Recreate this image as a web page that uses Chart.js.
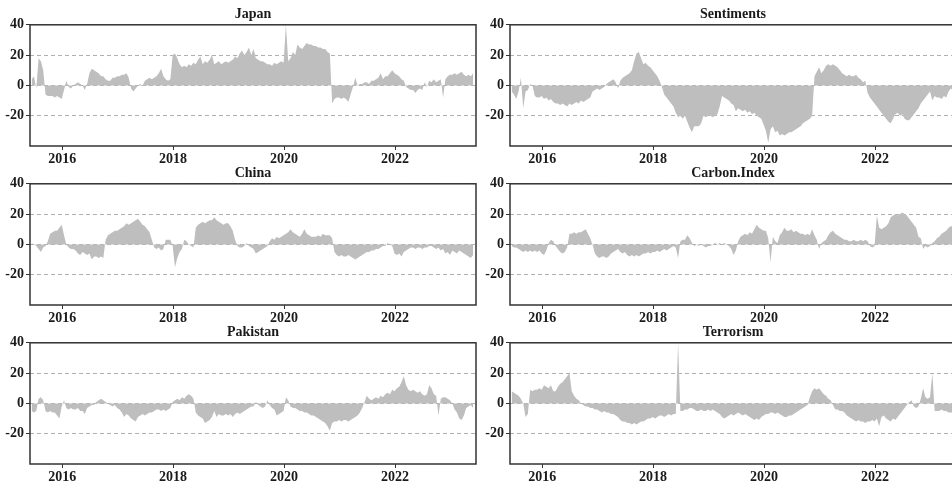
<!DOCTYPE html>
<html>
<head>
<meta charset="utf-8">
<script src="https://cdn.jsdelivr.net/npm/chart.js"></script>
<style>
  html, body { margin: 0; padding: 0; background: #fff; overflow: hidden; }
  body { width: 952px; height: 484px; position: relative; }
  canvas { position: absolute; }
</style>
</head>
<body>
<canvas id="c0" width="478" height="164" style="left:0px;top:0px"></canvas>
<canvas id="c1" width="478" height="164" style="left:480px;top:0px"></canvas>
<canvas id="c2" width="478" height="164" style="left:0px;top:159px"></canvas>
<canvas id="c3" width="478" height="164" style="left:480px;top:159px"></canvas>
<canvas id="c4" width="478" height="164" style="left:0px;top:318px"></canvas>
<canvas id="c5" width="478" height="164" style="left:480px;top:318px"></canvas>
<script>
// half-monthly observations, mid 2015 to mid 2023
const startYear = 2015.45;
const perYear = 24;

const yearTicks = [2016, 2018, 2020, 2022];
const valueTicks = [-20, 0, 20, 40];

const titles = ["Japan", "Sentiments", "China", "Carbon.Index", "Pakistan", "Terrorism"];

const japan = [
  4, 6, -2, 18, 16, 10, -6, -7, -7, -7, -8, -7, -8, -9, -3, 3, -1, -2, 0, 1, 2, 1, 0, -3,
  1, 8, 11, 10, 9, 8, 6, 6, 4, 3, 3, 5, 5, 6, 6, 7, 7, 8, 5, -2, -4, -2, 0, 1,
  0, 3, 4, 5, 4, 5, 6, 8, 11, 6, 4, 3, 4, 20, 21, 18, 14, 12, 13, 12, 14, 13, 15, 14,
  17, 19, 14, 16, 15, 17, 20, 14, 15, 16, 14, 15, 16, 15, 16, 17, 19, 18, 21, 23, 20, 22, 25, 20,
  24, 18, 17, 16, 16, 15, 14, 14, 13, 15, 14, 15, 16, 15, 40, 16, 18, 22, 20, 27, 25, 24, 26, 28,
  27, 27, 26, 26, 25, 25, 24, 24, 22, 21, -12, -9, -8, -8, -9, -8, -9, -11, -6, -1, 5, 0, 1, 1,
  2, 2, 1, 3, 3, 4, 5, 8, 4, 6, 6, 8, 10, 8, 7, 6, 4, 3, -1, -2, -3, -3, -5, -3,
  -2, -3, 2, -1, 3, 2, 4, 2, 3, 4, -8, 4, 6, 7, 7, 8, 7, 8, 9, 7, 6, 7, 6, 8
];

const sentiments = [
  -4, -6, -9, -4, 5, -15, -4, -3, 1, 0, -7, -8, -8, -7, -9, -8, -10, -9, -11, -12, -12, -13, -12, -13,
  -14, -12, -13, -12, -11, -12, -10, -11, -10, -9, -8, -4, -3, -2, -3, -2, -1, 1, 2, 3, 4, 2, -2, 3,
  5, 6, 7, 8, 10, 16, 21, 22, 18, 14, 15, 13, 12, 10, 8, 6, 3, -1, -6, -8, -10, -12, -14, -18,
  -21, -20, -22, -20, -24, -28, -31, -27, -27, -27, -25, -20, -21, -20, -20, -21, -20, -19, -14, -7, -8, -9, -10, -12,
  -13, -17, -15, -16, -17, -16, -18, -17, -19, -18, -20, -21, -22, -26, -30, -38, -29, -27, -31, -30, -33, -32, -33, -32,
  -31, -31, -30, -29, -28, -27, -25, -24, -23, -22, -20, 6, 9, 12, 8, 10, 13, 14, 13, 14, 13, 12, 10, 8,
  7, 6, 7, 6, 6, 7, 5, 4, 2, 3, -5, -8, -10, -12, -14, -16, -18, -20, -22, -24, -25, -22, -19, -18,
  -20, -19, -22, -23, -23, -21, -19, -17, -15, -12, -10, -8, -6, -4, -10, -7, -8, -8, -9, -7, -8, -4, -2, -3
];

const china = [
  1, 0, -1, -3, -5, -2, -1, 2, 7, 8, 9, 9, 11, 13, 6, 0, -2, -3, -3, -4, -6, -7, -5, -6,
  -7, -6, -10, -8, -8, -9, -8, -9, 3, 6, 7, 8, 9, 9, 10, 11, 12, 14, 13, 14, 15, 16, 17, 15,
  13, 12, 10, 8, 3, -2, -3, -2, -4, -3, 3, 3, 3, -1, -15, -9, -5, -3, 3, 2, 0, -1, -2, 11,
  13, 14, 15, 14, 15, 16, 16, 18, 16, 15, 14, 13, 14, 14, 12, 9, 3, -1, -2, -2, -1, 1, -1, -2,
  -3, -6, -5, -4, -3, -2, -1, 2, 4, 3, 5, 4, 5, 6, 7, 8, 10, 8, 7, 6, 5, 7, 10, 7,
  6, 5, 5, 5, 6, 5, 7, 6, 6, 6, 4, -5, -7, -8, -7, -8, -8, -7, -8, -9, -10, -9, -8, -7,
  -6, -5, -5, -4, -4, -3, -3, -2, -1, -1, 1, 0, -1, -6, -7, -6, -8, -5, -4, -3, -2, -2, -3, -2,
  -2, -3, -2, -2, -1, -1, -2, -3, -2, -4, -3, -6, -5, -7, -4, -5, -6, -4, -5, -6, -7, -8, -9, -7
];

const carbonIndex = [
  -1, -2, -2, -3, -4, -5, -4, -5, -4, -5, -4, -5, -4, -6, -7, -4, 1, 3, 2, -1, -3, -5, -6, -5,
  -2, 7, 7, 8, 7, 8, 8, 9, 10, 7, 4, 0, -6, -8, -9, -8, -8, -9, -8, -6, -5, -4, -3, -5,
  -6, -5, -7, -8, -7, -8, -7, -8, -7, -6, -6, -5, -6, -5, -5, -4, -5, -4, -3, -4, -3, -2, -1, -2,
  -9, 2, 3, 3, 6, 4, 1, -1, 0, -1, 0, -1, -2, -1, -1, 0, 1, 0, 1, 0, 1, 0, -1, -3,
  -7, -4, 2, 5, 6, 7, 6, 8, 7, 10, 13, 11, 10, 9, 9, 4, -12, 5, 2, 1, 6, 8, 11, 9,
  9, 10, 8, 9, 8, 7, 7, 6, 7, 6, 10, 6, 3, -3, 1, 2, 3, 6, 8, 9, 7, 6, 5, 4,
  3, 3, 2, 2, 3, 2, 2, 3, 2, 3, 2, -1, -2, -1, 19, 11, 10, 11, 12, 14, 18, 19, 20, 19,
  20, 21, 20, 19, 17, 15, 13, 11, 5, 4, -3, -1, -2, -1, 1, 2, 4, 5, 7, 8, 9, 11, 12, 12
];

const pakistan = [
  -5, -6, -5, 3, 4, 2, -5, -6, -5, -6, -6, -8, -10, -2, 2, -3, -4, -3, -4, -4, -3, -5, -5, -7,
  -3, -2, -1, -1, 1, 2, 3, 2, 1, 0, -1, -2, -1, -3, -4, -6, -9, -7, -8, -10, -11, -12, -9, -8,
  -7, -8, -7, -6, -6, -5, -4, -4, -5, -4, -5, -4, -3, 1, 2, 3, 2, 4, 3, 5, 6, 5, 3, -6,
  -8, -9, -10, -13, -12, -11, -9, -5, -9, -7, -8, -8, -7, -8, -7, -9, -7, -6, -7, -6, -5, -4, -3, -2,
  -2, 1, -1, -2, -3, -2, 2, -1, -3, -4, -8, -7, -6, -5, 4, 2, -2, -3, -3, -4, -5, -5, -6, -6,
  -7, -8, -8, -9, -10, -11, -12, -13, -15, -18, -13, -12, -12, -11, -12, -11, -11, -12, -11, -10, -9, -8, -6, -3,
  1, 5, 3, 2, 3, 4, 3, 5, 4, 6, 7, 6, 9, 8, 10, 11, 14, 18, 12, 9, 8, 9, 8, 7,
  8, 6, 5, 6, 12, 10, 6, 5, -8, 3, 4, 4, 3, 2, 0, -4, -6, -10, -11, -8, -3, -2, -1, -3
];

const terrorism = [
  8, 7, 6, 5, 3, 0, -9, -7, 9, 8, 9, 9, 10, 9, 12, 11, 10, 12, 8, 8, 11, 13, 14, 16,
  18, 20, 8, 5, 3, 2, 0, -1, -2, -2, -3, -3, -4, -4, -5, -6, -5, -6, -6, -7, -7, -8, -9, -11,
  -12, -12, -13, -13, -14, -13, -14, -13, -12, -12, -11, -10, -10, -9, -10, -9, -8, -8, -9, -8, -7, -8, -7, -7,
  40, -5, -5, -4, -4, -3, -3, -4, -5, -5, -4, -5, -5, -4, -5, -4, -5, -6, -7, -9, -10, -9, -8, -7,
  -8, -7, -6, -7, -8, -7, -8, -9, -10, -11, -10, -11, -9, -8, -7, -7, -6, -6, -7, -6, -7, -8, -9, -9,
  -8, -8, -7, -6, -5, -4, -3, -2, -1, 4, 8, 10, 9, 10, 8, 6, 5, 3, 2, -1, -4, -4, -5, -5,
  -6, -8, -9, -10, -11, -12, -11, -12, -12, -13, -12, -12, -11, -12, -10, -15, -9, -8, -10, -11, -12, -10, -11, -9,
  -7, -5, -3, -1, 1, 2, -2, -3, -2, 3, 10, 4, 3, 4, 20, -5, -5, -5, -4, -5, -5, -6, -6, -6
];

const allSeries = [japan, sentiments, china, carbonIndex, pakistan, terrorism];

const serif = "'Liberation Serif', 'Times New Roman', serif";

// box round the plot area
const framePlugin = {
  id: "frame",
  afterDraw(chart) {
    const { ctx, chartArea: a } = chart;
    ctx.save();
    ctx.strokeStyle = "#333";
    ctx.lineWidth = 1.5;
    ctx.strokeRect(a.left, a.top, a.right - a.left, a.bottom - a.top);
    ctx.restore();
  }
};

allSeries.forEach(function (values, k) {
  const points = values.map((v, i) => ({ x: startYear + i / perYear, y: v }));
  const ctx = document.getElementById("c" + k).getContext("2d");

  new Chart(ctx, {
    type: "line",
    data: {
      datasets: [{
        data: points,
        fill: "origin",
        backgroundColor: "#BEBEBE",
        borderColor: "rgba(0,0,0,0)",
        borderWidth: 0,
        pointRadius: 0,
        tension: 0
      }]
    },
    options: {
      responsive: false,
      animation: false,
      events: [],
      layout: { padding: { left: 0, right: 2, top: 0, bottom: 0 } },
      scales: {
        x: {
          type: "linear",
          min: 2015.42,
          max: 2023.46,
          grid: { drawOnChartArea: false, drawTicks: true, tickLength: 4, tickColor: "#333", tickWidth: 1 },
          border: { display: false },
          afterBuildTicks: (scale) => { scale.ticks = yearTicks.map(v => ({ value: v })); },
          afterFit: (scale) => { scale.height = 18; },
          ticks: {
            autoSkip: false,
            maxRotation: 0,
            padding: 1,
            color: "#1a1a1a",
            font: { family: serif, size: 14, weight: "bold" },
            callback: (v) => String(v)
          }
        },
        y: {
          min: -40,
          max: 40,
          grid: { color: "#b0b0b0", lineWidth: 1, tickLength: 4, tickColor: "#333", tickWidth: 1 },
          border: { display: false, dash: [4, 3] },
          afterBuildTicks: (scale) => { scale.ticks = valueTicks.map(v => ({ value: v })); },
          afterFit: (scale) => { scale.width = 30; },
          ticks: {
            padding: 2,
            color: "#1a1a1a",
            font: { family: serif, size: 14, weight: "bold" },
            callback: (v) => String(v)
          }
        }
      },
      plugins: {
        legend: { display: false },
        tooltip: { enabled: false },
        title: {
          display: true,
          text: titles[k],
          fullSize: false,
          color: "#1a1a1a",
          font: { family: serif, size: 14, weight: "bold" },
          padding: { top: 6, bottom: 2 }
        }
      }
    },
    plugins: [framePlugin]
  });
});
</script>
</body>
</html>
